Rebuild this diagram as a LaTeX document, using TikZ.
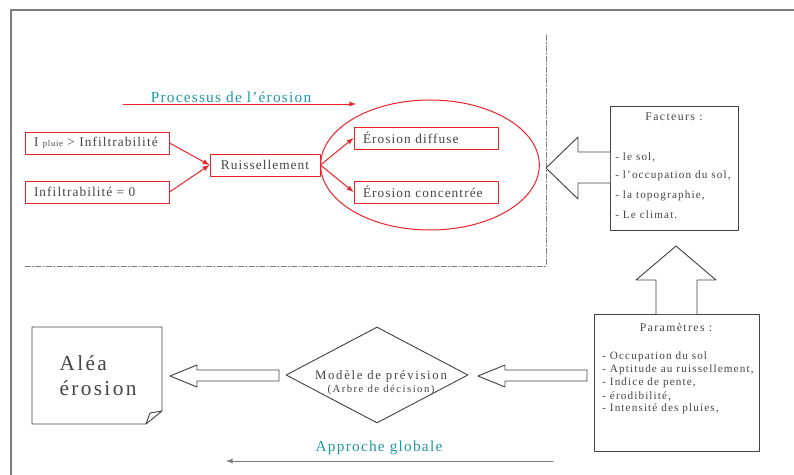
\documentclass[tikz,border=0pt]{standalone}
\usepackage{fontspec}
\setmainfont{Liberation Serif}
\usetikzlibrary{arrows,shapes.geometric}
\definecolor{rouge}{RGB}{236,34,42}
\definecolor{turquoise}{RGB}{30,152,164}
\definecolor{gristexte}{RGB}{68,68,68}
\definecolor{griscadre}{RGB}{125,125,125}

\begin{document}
\begin{tikzpicture}[line cap=round,line join=round,>=latex,x=0.75pt,y=-0.75pt,
    trait/.style={draw=gristexte,line width=0.7pt},
    cadre/.style={draw=rouge,line width=0.75pt,inner ysep=0pt,minimum height=16.5pt,text=gristexte,font=\fontsize{10}{12}\selectfont\addfontfeatures{LetterSpace=8}},
    boite/.style={cadre,inner xsep=6.75pt,text width=94.5pt,align=left},
    fleche/.style={rouge,line width=0.75pt,->},
    titre/.style={text=turquoise,inner sep=0pt,font=\fontsize{11.5}{13}\selectfont\addfontfeatures{LetterSpace=8}},
    liste/.style={anchor=west,inner sep=0pt,text=gristexte,font=\fontsize{8.4}{9}\selectfont\addfontfeatures{LetterSpace=10}}]
				\useasboundingbox (0,0) rectangle (794,475);
				% cadre et limite du processus
				\draw [griscadre,line width=1.1pt] (11,480) -- (11,10) -- (800,10);
				\draw [griscadre,line width=0.6pt,dash pattern=on 4pt off 1.5pt on 1pt off 1.5pt] (25,266) -- (546,266) -- (546,35);
				% processus de l'erosion
				\coordinate (debut) at (123,104);
				\coordinate (fin) at (356,104);
				\draw [fleche] (debut) -- (fin);
				\node[titre] (processus) at (231,97) {Processus de l'érosion};
				\node[boite] (pluie) at (97,143) {I {\fontsize{6.5}{7}\selectfont pluie} > Infiltrabilité};
				\node[boite] (infiltr) at (97,192) {Infiltrabilité = 0};
				\node[cadre,minimum width=82.5pt,inner xsep=0pt] (ruis) at (265,165) {Ruissellement};
				\node[draw=rouge,line width=0.75pt,ellipse,minimum width=164pt,minimum height=97.5pt,inner sep=0pt] (bulle) at (430,165) {};
				\node[boite] (diffuse) at (426,138) {Érosion diffuse};
				\node[boite] (concentree) at (426,192) {Érosion concentrée};
				\draw [fleche] (pluie.east) -- (ruis.west);
				\draw [fleche] (infiltr.east) -- (ruis.west);
				\draw [fleche] (ruis.east) -- (diffuse.west);
				\draw [fleche] (ruis.east) -- (concentree.west);
				% facteurs
				\node[trait,minimum width=96pt,minimum height=93pt,inner sep=0pt] (facteurs) at (674,168) {};
				\node[liste,anchor=center,font=\fontsize{8.8}{9}\selectfont\addfontfeatures{LetterSpace=12}] (factitre) at (674,117) {Facteurs :};
				\node[liste] (sol) at (615,157) {- le sol,};
				\node[liste] (occup) at (615,176) {- l'occupation du sol,};
				\node[liste] (topo) at (615,196) {- la topographie,};
				\node[liste] (climat) at (615,215) {- Le climat.};
				\draw [trait,fill=white] (610,152) -- (578,152) -- (578,137) -- (546,168) -- (578,199) -- (578,183) -- (610,183);
				% parametres
				\node[trait,minimum width=123.75pt,minimum height=102.75pt,inner sep=0pt] (parametres) at (676.5,382.5) {};
				\node[liste,anchor=center,font=\fontsize{8.8}{9}\selectfont\addfontfeatures{LetterSpace=12}] (paramtitre) at (676,328) {Paramètres :};
				\node[liste] (occsol) at (602,357) {- Occupation du sol};
				\node[liste] (aptitude) at (602,370) {- Aptitude au ruissellement,};
				\node[liste] (pente) at (602,383) {- Indice de pente,};
				\node[liste] (erodib) at (602,396) {- érodibilité,};
				\node[liste] (pluies) at (602,409) {- Intensité des pluies,};
				\draw [trait,fill=white] (656,314) -- (656,280) -- (636,280) -- (676,246) -- (716,280) -- (697,280) -- (697,314);
				% modele de prevision
				\node[trait,diamond,minimum width=136.5pt,minimum height=72pt,inner sep=0pt] (modele) at (377,375) {};
				\node[align=center,inner sep=0pt,text=gristexte,font=\fontsize{9.6}{9.75}\selectfont\addfontfeatures{LetterSpace=13}] (modeletxt) at (381,383) {Modèle de prévision\\{\fontsize{8}{9}\selectfont\addfontfeatures{LetterSpace=14}(Arbre de décision)}};
				\draw [trait,fill=white] (587,370) -- (505,370) -- (505,365) -- (478,376) -- (505,387) -- (505,381) -- (587,381) -- cycle;
				\draw [trait,fill=white] (279,370) -- (197,370) -- (197,365) -- (170,376) -- (197,387) -- (197,381) -- (279,381) -- cycle;
				% alea erosion
				\draw [trait] (32,327) -- (162,327) -- (162,411) -- (146,424) -- (32,424) -- cycle;
				\draw [trait] (146,424) -- (150,413) -- (162,411);
				\node[align=left,inner sep=0pt,text=gristexte,font=\fontsize{16}{19}\selectfont\addfontfeatures{LetterSpace=11}] (alea) at (98,376) {Aléa\\érosion};
				% approche globale
				\node[titre] (approche) at (379,448) {Approche globale};
				\coordinate (droite) at (553,461);
				\coordinate (gauche) at (226,461);
				\draw [griscadre,line width=0.75pt,-latex] (droite) -- (gauche);
\end{tikzpicture}
\end{document}
